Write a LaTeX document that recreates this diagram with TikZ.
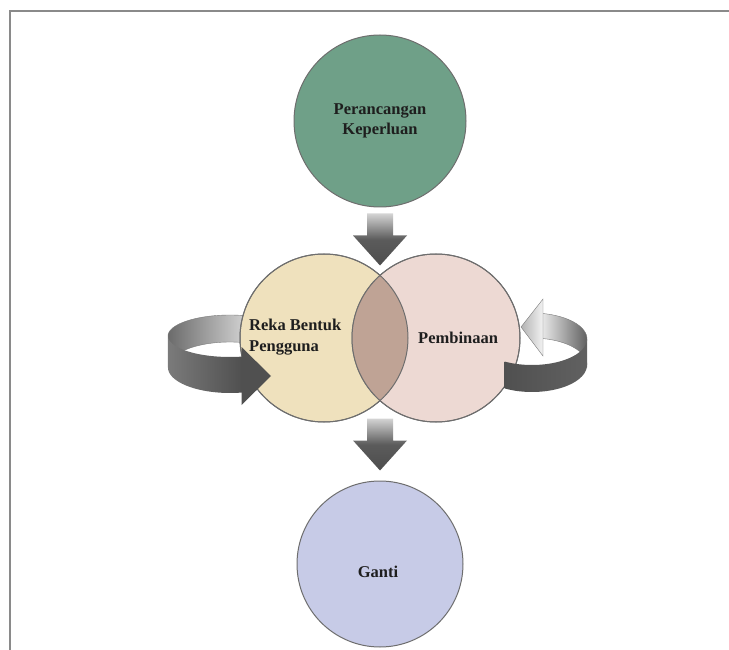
\documentclass[tikz,border=0pt]{standalone}
\usepackage{fontspec}
\setmainfont{Liberation Serif}
\usetikzlibrary{calc}

\definecolor{reqgreen}{HTML}{6FA088}
\definecolor{uiyellow}{HTML}{EFE1BD}
\definecolor{buildpink}{HTML}{EDD9D3}
\definecolor{overlap}{HTML}{BFA395}
\definecolor{swapblue}{HTML}{C7CBE7}
\definecolor{ringline}{HTML}{6E6E6E}
\definecolor{labeltext}{HTML}{1E1E1E}
\definecolor{framegray}{HTML}{8A8A8A}
\definecolor{arrowlight}{HTML}{D4D4D4}
\definecolor{arrowdark}{HTML}{4D4D4D}
\definecolor{banddark}{HTML}{505050}
\definecolor{bandedge}{HTML}{7A7A7A}

\tikzset{
  stage/.style={circle, draw=ringline, line width=1pt, inner sep=0pt,
    font=\bfseries\fontsize{16.5}{20.5}\selectfont, text=labeltext, align=center},
  stagetext/.style={inner sep=0pt, font=\bfseries\fontsize{16.5}{20.5}\selectfont,
    text=labeltext},
  pics/flowdown/.style={code={
    \shade[top color=arrowlight, bottom color=arrowdark, middle color=arrowdark!92!white]
      (-13,0) -- (13,0) -- (13,22) -- (27,22) -- (0,52) -- (-27,22) -- (-13,22) -- cycle;
  }}
}

\begin{document}
\begin{tikzpicture}[x=1pt,y=-1pt]
\useasboundingbox (0,0) rectangle (729,650);

% page frame (left and top edges)
\draw[framegray, line width=2pt] (10,650) -- (10,11) -- (729,11);

% loop behind the left circle (inner face)
\shade[left color=black!58, right color=black!5, draw=bandedge, line width=0.4pt]
  plot[domain=50:180, variable=\t, samples=40] ({230+62*cos(\t)},{336-21*sin(\t)})
  -- plot[domain=180:50, variable=\t, samples=40] ({230+62*cos(\t)},{367.5-25.5*sin(\t)})
  -- cycle;

% loop behind the right circle (inner face) and its head
\shade[left color=black!8, right color=black!62, draw=bandedge, line width=0.4pt]
  plot[domain=80:-5, variable=\t, samples=40] ({532+55*cos(\t)},{339-26*sin(\t)})
  -- plot[domain=-5:80, variable=\t, samples=40] ({532+55*cos(\t)},{365-27*sin(\t)})
  -- cycle;
\shade[left color=black!30, right color=black!5, draw=bandedge, line width=0.4pt]
  (543,299) -- (521,327) -- (543,356) -- cycle;

% stages
\node[stage, fill=reqgreen, minimum size=172pt] (req) at (380,121)
  {Perancangan\\Keperluan};
\node[stage, fill=uiyellow, minimum size=168pt] (ui) at (324,338) {};
\node[stage, fill=buildpink, minimum size=168pt] (build) at (436,338) {};
\begin{scope}
  \clip (ui.center) circle[radius=84pt];
  \fill[overlap] (build.center) circle[radius=84pt];
\end{scope}
\draw[ringline, line width=1pt] (ui.center) circle[radius=84pt];
\draw[ringline, line width=1pt] (build.center) circle[radius=84pt];
\node[stage, fill=swapblue, minimum size=166pt] (swap) at (380,564) {};

% front faces of the loops
\shade[left color=black!52, right color=banddark]
  plot[domain=180:281, variable=\t, samples=40] ({230+62*cos(\t)},{336-21*sin(\t)})
  -- plot[domain=281:180, variable=\t, samples=40] ({230+62*cos(\t)},{367.5-25.5*sin(\t)})
  -- cycle;
\fill[banddark] (241.5,347) -- (271,376) -- (241.5,405) -- cycle;

\shade[left color=banddark, right color=black!62]
  plot[domain=240:360, variable=\t, samples=40] ({532+55*cos(\t)},{339-26*sin(\t)})
  -- plot[domain=360:240, variable=\t, samples=40] ({532+55*cos(\t)},{365-27*sin(\t)})
  -- cycle;

% labels
\node[stagetext, anchor=west, align=left] (uilabel) at (249,337)
  {Reka Bentuk\\Pengguna};
\node[stagetext, anchor=west] (buildlabel) at (418,338) {Pembinaan};
\node[stagetext] (swaplabel) at (378,572) {Ganti};

% flow between stages
\path (req.south) ++(0,6) pic {flowdown};
\path ($(ui.south)!0.5!(build.south)$) ++(0,-4) pic {flowdown};
\end{tikzpicture}
\end{document}
